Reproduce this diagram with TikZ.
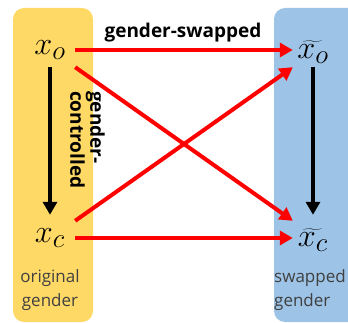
\documentclass[tikz,border=0pt]{standalone}
\usepackage{graphicx}
\usepackage{fontspec}
\setmainfont{Open Sans}
\setsansfont{Open Sans}
\usetikzlibrary{arrows.meta}
\definecolor{boxyellow}{HTML}{FFD966}
\definecolor{boxblue}{HTML}{9DC3E6}
\definecolor{arrred}{HTML}{FF0000}
\newcommand{\bigvar}[1]{\scalebox{1.3}{\Huge$#1$}}
\begin{document}
\begin{tikzpicture}[x=1pt,y=1pt,
  var/.style={minimum width=50pt,minimum height=34pt,inner sep=0pt},
  tvar/.style={var,minimum width=40pt},
  redarrow/.style={draw=arrred,line width=4pt,-{Triangle[length=13pt,width=14pt]}},
  blackarrow/.style={draw=black,line width=4pt,-{Triangle[length=13pt,width=14pt]}},
  lbl/.style={font=\fontsize{17}{24}\selectfont,text=black!75},
  blbl/.style={font=\bfseries\fontsize{19}{20}\selectfont}]
\useasboundingbox (0,0) rectangle (348,-323);
\fill[boxyellow,rounded corners=11pt] (13,-8) rectangle (93,-322);
\fill[boxblue,rounded corners=11pt] (274,-8) rectangle (370,-322);
\node[var] (xo) at (50,-50) {\bigvar{x_o}};
\node[var] (xc) at (50,-238) {\bigvar{x_c}};
\node[tvar] (txo) at (313,-52) {\bigvar{\widetilde{x_o}}};
\node[tvar] (txc) at (313,-240) {\bigvar{\widetilde{x_c}}};
\draw[redarrow] (xo.east) -- ([yshift=2pt]txo.west);
\draw[redarrow] (xo.south east) -- ([yshift=2pt]txc.north west);
\draw[redarrow] (xc.north east) -- ([yshift=2pt]txo.south west);
\draw[redarrow] (xc.east) -- ([yshift=2pt]txc.west);
\draw[blackarrow] (xo.south) -- ([yshift=6pt]xc.north);
\draw[blackarrow] ([yshift=2pt]txo.south) -- ([yshift=8pt]txc.north);
\node[blbl] (gs) at (183,-33) {gender-swapped};
\node[blbl,rotate=-90,anchor=north west,align=left,inner sep=0pt] (gc) at (105,-91) {gender-\\controlled};
\node[lbl,align=center] (og) at (50,-290) {original\\gender};
\node[lbl,align=left,anchor=west,inner sep=0pt] (sg) at (274,-290) {swapped\\gender};
\end{tikzpicture}
\end{document}
